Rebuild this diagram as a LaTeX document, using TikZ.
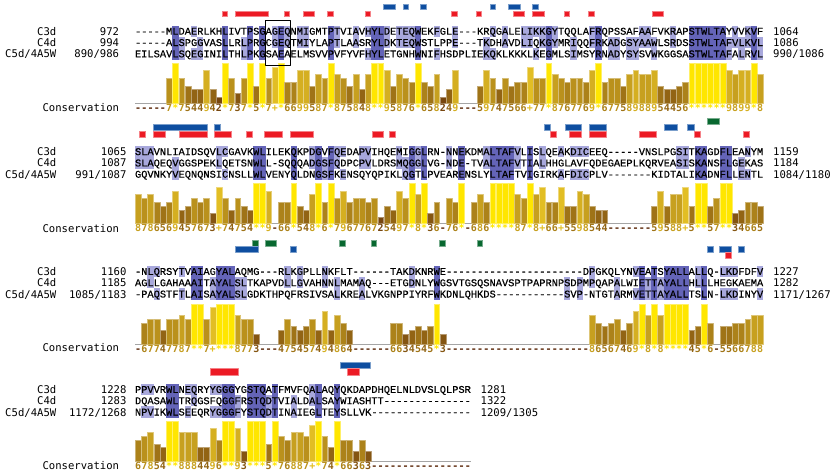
\documentclass[tikz,border=0pt]{standalone}
\usepackage{fontspec}
\setmonofont{Liberation Mono}
\newfontfamily\resfont{Liberation Mono}[FakeBold=0.5]
\newfontfamily\labfont{DejaVu Sans Mono}
\definecolor{pidhi}{RGB}{100,100,184}
\definecolor{pidmid}{RGB}{168,168,220}
\definecolor{conlo}{RGB}{92,40,10}
\definecolor{conhi}{RGB}{226,190,36}
\definecolor{constar}{RGB}{255,230,0}
\definecolor{basegray}{RGB}{165,165,165}
\definecolor{mkred}{RGB}{236,26,36}
\definecolor{mkblue}{RGB}{14,78,160}
\definecolor{mkgreen}{RGB}{8,104,48}
\tikzset{res/.style={font=\resfont\fontsize{10.37}{12}\selectfont, anchor=base, inner sep=0pt},
  con/.style={font=\labfont\bfseries\fontsize{10}{12}\selectfont, anchor=base, inner sep=0pt},
  lab/.style={font=\labfont\fontsize{10.6}{12}\selectfont, inner sep=0pt},
  mkbox/.style={fill=#1, draw=#1!55!white, line width=0.35}}
% split a string into numbered one-letter macros
\newcount\chidx
\def\splitseq#1#2{\def\seqpre{#1}\chidx=0 \splitloop#2\relax}
\def\splitloop#1{\ifx#1\relax\else\advance\chidx by 1
  \expandafter\def\csname\seqpre\the\chidx\endcsname{#1}%
  \expandafter\splitloop\fi}
\def\dashc{-}\def\starc{*}\def\plusc{+}
% block 1
\splitseq{b1a}{-----MLDAERLKHLIVTPSGAGEQNMIGMTPTVIAVHYLDETEQWEKFGLE---KRQGALELIKKGYTQQLAFRQPSSAFAAFVKRAPSTWLTAYVVKVF}
\splitseq{b1b}{-----ALSPGGVASLLRLPRGCGEQTMIYLAPTLAASRYLDKTEQWSTLPPE---TKDHAVDLIQKGYMRIQQFRKADGSYAAWLSRDSSTWLTAFVLKVL}
\splitseq{b1c}{EILSAVLSQEGINILTHLPKGSAEAELMSVVPVFYVFHYLETGNHWNIFHSDPLIEKQKLKKKLKEGMLSIMSYRNADYSYSVWKGGSASTWLTAFALRVL}
\splitseq{b1s}{-----7*7544942*737*5*7+*6699587*875848**95876*658249---59747566+77*8767769*67758988954456******9899*8}
% block 2
\splitseq{b2a}{SLAVNLIAIDSQVLCGAVKWLILEKQKPDGVFQEDAPVIHQEMIGGLRN-NNEKDMALTAFVLISLQEAKDICEEQ-----VNSLPGSITKAGDFLEANYM}
\splitseq{b2b}{SLAQEQVGGSPEKLQETSNWLL-SQQQADGSFQDPCPVLDRSMQGGLVG-NDE-TVALTAFVTIALHHGLAVFQDEGAEPLKQRVEASISKANSFLGEKAS}
\splitseq{b2c}{GQVNKYVEQNQNSICNSLLWLVENYQLDNGSFKENSQYQPIKLQGTLPVEARENSLYLTAFTVIGIRKAFDICPLV-------KIDTALIKADNFLLENTL}
\splitseq{b2s}{8786569457673+74754**9-66*548*6*796776725497*8*36-76*-686****87*8+66+5598544-------59588+5**57**34665}
% block 3
\splitseq{b3a}{-NLQRSYTVAIAGYALAQMG---RLKGPLLNKFLT------TAKDKNRWE----------------------DPGKQLYNVEATSYALLALLQ-LKDFDFV}
\splitseq{b3b}{AGLLGAHAAAITAYALSLTKAPVDLLGVAHNNLMAMAQ---ETGDNLYWGSVTGSQSNAVSPTPAPRNPSDPMPQAPALWIETTAYALLHLLLHEGKAEMA}
\splitseq{b3c}{-PAQSTFTLAISAYALSLGDKTHPQFRSIVSALKREALVKGNPPIYRFWKDNLQHKDS-----------SVP-NTGTARMVETTAYALLTSLN-LKDINYV}
\splitseq{b3s}{-67747787**7+***8773---475457494864------6634545*3-----------------------86567469*8*8****45*6-5566788}
% block 4
\splitseq{b4a}{PPVVRWLNEQRYYGGGYGSTQATFMVFQALAQYQKDAPDHQELNLDVSLQLPSR}
\splitseq{b4b}{DQASAWLTRQGSFQGGFRSTQDTVIALDALSAYWIASHTT--------------}
\splitseq{b4c}{NPVIKWLSEEQRYGGGFYSTQDTINAIEGLTEYSLLVK----------------}
\splitseq{b4s}{67854**8884496**93***5*76887+*74*66363----------------}
% #1 block, #2 columns, #3 first row, #4 bar base
\newcommand\alnblock[4]{%
  \draw[basegray,line width=0.9] (135,#4) -- ({135+#2*6.22},#4);
  \foreach \i in {1,...,#2}{%
    \expandafter\let\expandafter\rA\csname #1a\i\endcsname
    \expandafter\let\expandafter\rB\csname #1b\i\endcsname
    \expandafter\let\expandafter\rC\csname #1c\i\endcsname
    \expandafter\let\expandafter\rS\csname #1s\i\endcsname
    \pgfmathsetmacro\xl{135+(\i-1)*6.22}
    \pgfmathsetmacro\xr{\xl+6.22}
    \pgfmathsetmacro\xm{\xl+3.11}
    \pgfmathsetmacro\yA{#3}\pgfmathsetmacro\yB{#3+11.3}\pgfmathsetmacro\yC{#3+22.6}
    % identity shading
    \def\hi{0}%
    \ifx\rA\rB\ifx\rA\dashc\else\ifx\rB\rC\def\hi{3}\else\def\hi{1}\fi\fi
    \else\ifx\rA\rC\ifx\rA\dashc\else\def\hi{2}\fi
    \else\ifx\rB\rC\ifx\rB\dashc\else\def\hi{4}\fi\fi\fi\fi
    \ifnum\hi=3 \fill[pidhi] (\xl,\yA-5.65) rectangle (\xr,\yC+5.65);\fi
    \ifnum\hi=1 \fill[pidmid] (\xl,\yA-5.65) rectangle (\xr,\yB+5.65);\fi
    \ifnum\hi=4 \fill[pidmid] (\xl,\yB-5.65) rectangle (\xr,\yC+5.65);\fi
    \ifnum\hi=2 \fill[pidmid] (\xl,\yA-5.65) rectangle (\xr,\yA+5.65);
      \fill[pidmid] (\xl,\yC-5.65) rectangle (\xr,\yC+5.65);\fi
    \node[res] (#1a\i) at (\xm,\yA+3.4) {\rA};
    \node[res] (#1b\i) at (\xm,\yB+3.4) {\rB};
    \node[res] (#1c\i) at (\xm,\yC+3.4) {\rC};
    % conservation bar and score
    \ifx\rS\dashc\def\score{0}\else\ifx\rS\starc\def\score{11}\else
      \ifx\rS\plusc\def\score{10}\else\edef\score{\rS}\fi\fi\fi
    \ifnum\score=11 \colorlet{concol}{constar}\else
      \pgfmathtruncatemacro\pct{\score*10}\colorlet{concol}{conhi!\pct!conlo}\fi
    \ifnum\score>0 \filldraw[fill=concol,draw=concol!60!white,line width=0.35]
      (\xl+0.18,#4) rectangle (\xr-0.18,#4-3.8*\score+1.5);\fi
    \node[con,text=concol] (#1s\i) at (\xm,#4+8.4) {\rS};
  }}
\begin{document}
\begin{tikzpicture}[x=1pt,y=-1pt,line join=round]
\useasboundingbox (0,0) rectangle (835,474);
\alnblock{b1}{101}{31.3}{103.3}
\alnblock{b2}{101}{151.7}{223.5}
\alnblock{b3}{101}{271.5}{344.0}
\alnblock{b4}{54}{389.5}{461.2}
% names and residue numbers
\foreach \yy/\lx/\rx/\na/\nb/\nc/\ea/\eb/\ec [count=\k] in {
  31.3/119.3/773/972/994/890\slash986/1064/1086/990\slash1086,
  151.7/126.7/773/1065/1087/991\slash1087/1159/1184/1084\slash1180,
  271.5/126.7/773/1160/1185/1085\slash1183/1227/1282/1171\slash1267,
  389.5/126.7/480.5/1228/1283/1172\slash1268/1281/1322/1209\slash1305}{
  \node[lab,anchor=base east] (sq\k-1) at (56.5,\yy+3.9) {C3d};
  \node[lab,anchor=base east] (sq\k-2) at (56.5,\yy+15.2) {C4d};
  \node[lab,anchor=base east] (sq\k-3) at (56.5,\yy+26.5) {C5d/4A5W};
  \node[lab,anchor=base east] (ln\k-1) at (\lx,\yy+3.9) {\na};
  \node[lab,anchor=base east] (ln\k-2) at (\lx,\yy+15.2) {\nb};
  \node[lab,anchor=base east] (ln\k-3) at (\lx,\yy+26.5) {\nc};
  \node[lab,anchor=base west] (rn\k-1) at (\rx,\yy+3.9) {\ea};
  \node[lab,anchor=base west] (rn\k-2) at (\rx,\yy+15.2) {\eb};
  \node[lab,anchor=base west] (rn\k-3) at (\rx,\yy+26.5) {\ec};
  \node[lab,anchor=base east] (cv\k) at (119.3,\yy+80.4) {Conservation};
}
% boxed columns
\draw[line width=0.7] (265.6,20.2) rectangle (290.6,65);
% site markers, block 1
\foreach \xa/\xb in {383.5/395.3,402.7/408.4,420.4/425.8,489.7/495.4,508.4/519.8,532.4/537.8}
  \path[mkbox=mkblue] (\xa,4.2) rectangle (\xb,9.4);
\foreach \xa/\xb in {221.7/227.2,234.8/267.8,284.1/289.2,303.2/314.2,327.3/332.7,364.8/370.2,
  451.6/457.0,476.0/481.4,513.5/524.5,532.3/544.5,564.1/569.5,588.5/593.9,651.7/662.7}
  \path[mkbox=mkred] (\xa,10.8) rectangle (\xb,16.6);
% block 2
\path[mkbox=mkgreen] (706.7,118.3) rectangle (718.7,124);
\foreach \xa/\xb in {152.8/207.4,214.4/220.5,544.1/549.8,564.8/580.8,589.0/605.7,664.0/677.0,687.4/693.7}
  \path[mkbox=mkblue] (\xa,124.3) rectangle (\xb,130.3);
\foreach \xa/\xb in {139.0/145.5,152.8/165.1,178.9/207.4,214.4/231.5,246.6/252.3,264.5/282.0,
  290.6/313.4,372.1/383.5,389.2/394.9,549.8/555.9,569.4/580.8,589.0/605.7,639.1/655.8,
  694.1/699.8,743.4/749.5}
  \path[mkbox=mkred] (\xa,130.7) rectangle (\xb,136.7);
% block 3
\foreach \xa/\xb in {252.3/258.0,264.9/276.3,339.1/344.8,370.9/376.6,439.4/445.1,476.9/482.6}
  \path[mkbox=mkgreen] (\xa,240) rectangle (\xb,245.7);
\foreach \xa/\xb in {234.7/258.0,290.2/295.9,707.5/713.2,718.9/730.8,738.1/743.8}
  \path[mkbox=mkblue] (\xa,246.3) rectangle (\xb,252);
\path[mkbox=mkred] (725.1,252.3) rectangle (730.8,258.3);
% block 4
\path[mkbox=mkblue] (339.9,361.7) rectangle (369.7,368.3);
\foreach \xa/\xb in {209.9/238.4,347.2/358.7}
  \path[mkbox=mkred] (\xa,368.3) rectangle (\xb,375);
\end{tikzpicture}
\end{document}
